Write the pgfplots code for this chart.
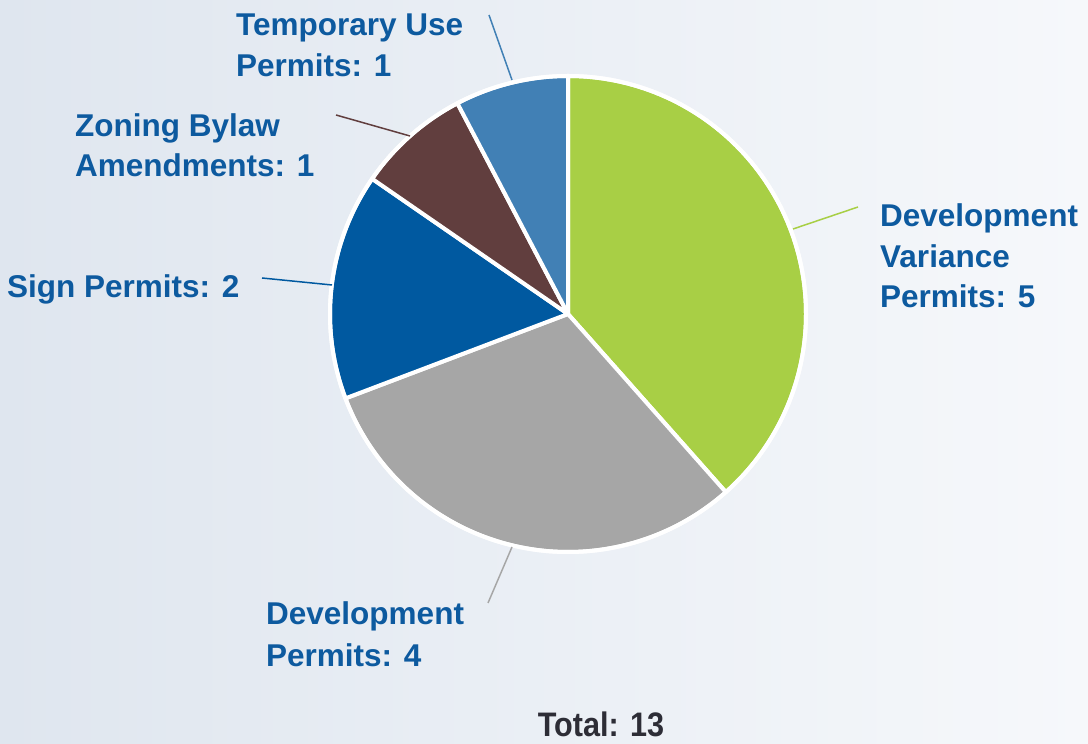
\documentclass[border=0pt]{standalone}
\usepackage{fontspec}
\setmainfont{Liberation Sans}
\newfontfamily\totalfont{Liberation Sans}[FakeStretch=0.9]
\usepackage{pgfplots}
\pgfplotsset{compat=1.18}
\definecolor{bgL}{RGB}{223,230,239}
\definecolor{bgR}{RGB}{246,248,251}
\definecolor{lab}{RGB}{13,90,159}
\definecolor{cDVP}{RGB}{168,207,69}
\definecolor{cDP}{RGB}{166,166,166}
\definecolor{cSP}{RGB}{0,89,160}
\definecolor{cZB}{RGB}{97,62,62}
\definecolor{cTU}{RGB}{65,128,181}
\definecolor{tot}{RGB}{45,45,54}
% #1 cumulative count before slice, #2 slice value, #3 colour
\newcommand{\pieslice}[3]{%
  \fill[#3, draw=white, line width=4pt, line join=round] (axis cs:568,430) -- ++({90-(#1)*360/13}:238pt)
    arc[start angle={90-(#1)*360/13}, delta angle={-(#2)*360/13}, radius=238pt] -- cycle;}
\newcommand{\lbl}[3]{\node[anchor=base west, inner sep=0pt, text=lab, font=\fontsize{31.5}{40}\selectfont\bfseries] at (axis cs:#1,#2) {#3};}
\begin{document}
\begin{tikzpicture}
\begin{axis}[
  scale only axis, width=1088pt, height=744pt,
  xmin=0, xmax=1088, ymin=0, ymax=744,
  hide axis, clip=false]
\fill[left color=bgL, right color=bgR] (axis cs:0,0) rectangle (axis cs:1088,744);
% values: 5, 4, 2, 1, 1 (total 13)
\pieslice{0}{5}{cDVP}
\pieslice{5}{4}{cDP}
\pieslice{9}{2}{cSP}
\pieslice{11}{1}{cZB}
\pieslice{12}{1}{cTU}
\draw[white, line width=4pt] (axis cs:568,430) circle[radius=238pt];
% leader lines
\draw[cTU, line width=1.5pt] (axis cs:489,729) -- (axis cs:512,664);
\draw[cZB, line width=1.5pt] (axis cs:336,629) -- (axis cs:410,608);
\draw[cSP, line width=1.5pt] (axis cs:262,466) -- (axis cs:332,459);
\draw[cDVP, line width=1.5pt] (axis cs:858,537) -- (axis cs:793,515);
\draw[cDP, line width=1.5pt] (axis cs:512,197) -- (axis cs:488,141);
% labels
\lbl{236}{708}{Temporary Use}
\lbl{236}{667}{Permits: 1}
\lbl{75}{607}{Zoning Bylaw}
\lbl{75}{567}{Amendments: 1}
\lbl{7}{446}{Sign Permits: 2}
\lbl{880}{517}{Development}
\lbl{880}{476}{Variance}
\lbl{880}{436}{Permits: 5}
\lbl{266}{119}{Development}
\lbl{266}{77}{Permits: 4}
\node[anchor=base, inner sep=0pt, text=tot, font=\totalfont\fontsize{34}{40}\selectfont\bfseries] at (axis cs:601,7) {Total: 13};
\end{axis}
\end{tikzpicture}
\end{document}
